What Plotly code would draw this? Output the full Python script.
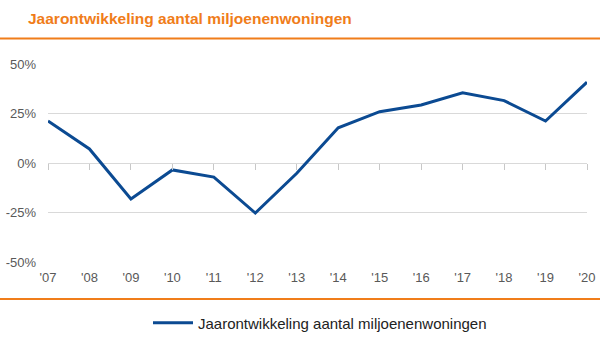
import plotly.graph_objects as go

years = ["'07", "'08", "'09", "'10", "'11", "'12", "'13", "'14", "'15", "'16", "'17", "'18", "'19", "'20"]
values = [21.2, 7.1, -18.2, -3.5, -7.1, -25.3, -5.2, 17.8, 25.9, 29.3, 35.5, 31.5, 21.2, 40.8]
y_ticks = [-50, -25, 0, 25, 50]
y_labels = ["-50%", "-25%", "0%", "25%", "50%"]
series_name = "Jaarontwikkeling aantal miljoenenwoningen"
title_text = "Jaarontwikkeling aantal miljoenenwoningen"

W, H = 600, 341
ml, mr, mt, mb = 48, 13, 64, 79
pw = W - ml - mr
ph = H - mt - mb

orange = "#f07d1a"
blue = "#0b4a92"
grid = "#d9d9d9"
font = "Liberation Sans, Arial, sans-serif"

fig = go.Figure()
fig.add_trace(go.Scatter(x=years, y=values, mode="lines", name=series_name,
                         line=dict(color=blue, width=3)))
# helper trace so the tick-mark axis at the zero line has the categories
fig.add_trace(go.Scatter(x=years, y=[0] * len(years), xaxis="x2", mode="lines",
                         line=dict(width=0), showlegend=False, hoverinfo="skip"))

def px_x(p):
    return (p - ml) / pw

def px_y(p):
    return 1 - (p - mt) / ph

fig.update_layout(
    width=W, height=H,
    margin=dict(l=ml, r=mr, t=mt, b=mb, autoexpand=False),
    plot_bgcolor="white", paper_bgcolor="white",
    font=dict(family=font, color="#595959", size=12),
    showlegend=True,
    legend=dict(orientation="h", xref="container", yref="container",
                x=(W / 2 + 20) / W, xanchor="center", y=1 - 323 / H, yanchor="middle",
                font=dict(size=15, color="#222222"), itemwidth=40),
    xaxis=dict(type="category", range=[0, len(years) - 1], showgrid=False, zeroline=False,
               showline=False, ticks="", tickfont=dict(size=13, color="#595959"),
               ticklabelstandoff=6),
    xaxis2=dict(type="category", range=[0, len(years) - 1], overlaying="x", anchor="free",
                position=0.5, side="bottom", showticklabels=False, ticks="outside",
                ticklen=6, tickcolor="#c8c8c8", tickwidth=1, showgrid=False, showline=False,
                zeroline=False),
    yaxis=dict(range=[-50, 50], tickvals=y_ticks, ticktext=y_labels, showgrid=True,
               gridcolor=grid, gridwidth=1, zeroline=True, zerolinecolor=grid,
               zerolinewidth=1, showline=False, ticks="", ticklabelstandoff=11,
               tickfont=dict(size=13, color="#595959")),
    annotations=[dict(text="<b>" + title_text + "</b>", xref="paper", yref="paper",
                      x=px_x(26), y=px_y(18), xanchor="left", yanchor="middle",
                      showarrow=False, font=dict(size=15.5, color=orange, family=font))],
    shapes=[
        dict(type="line", xref="paper", yref="paper", x0=px_x(0), x1=px_x(W),
             y0=px_y(38.5), y1=px_y(38.5), line=dict(color=orange, width=2)),
        dict(type="line", xref="paper", yref="paper", x0=px_x(0), x1=px_x(W),
             y0=px_y(299), y1=px_y(299), line=dict(color=orange, width=2)),
    ],
)

fig.write_html("out.html")
